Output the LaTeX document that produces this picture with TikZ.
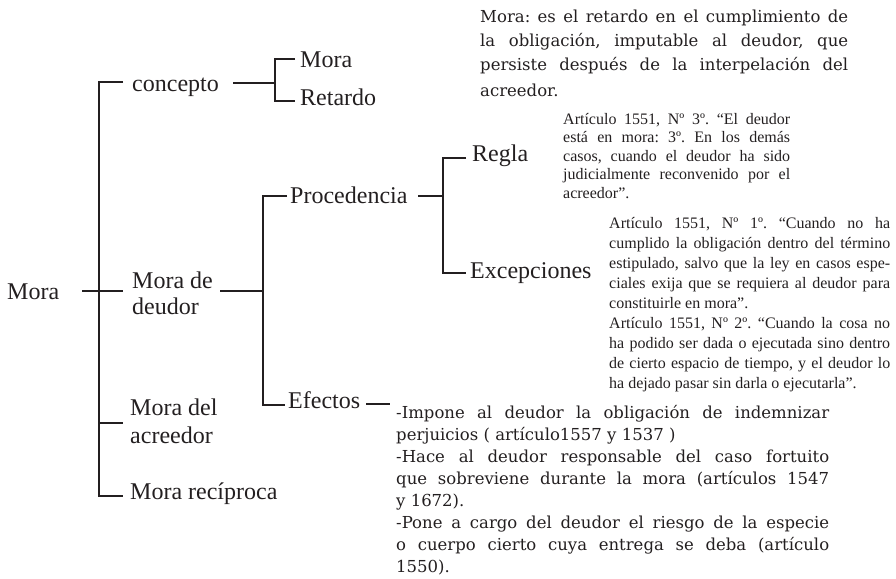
\documentclass[tikz,border=0pt]{standalone}
\usepackage{fontspec}
\setmainfont{Liberation Serif}
\newfontfamily\schfont{DejaVu Serif}
\definecolor{ink}{HTML}{231F20}
\frenchspacing
\tikzset{
  br/.style={line width=2.4pt, draw=ink},
  lbl/.style={anchor=base west, inner sep=0pt, text=ink, font=\fontsize{24}{26}\selectfont},
  blk/.style={anchor=base west, inner sep=0pt, text=ink}
}
\newcommand{\jl}[2]{\makebox[#1][s]{#2}}
\begin{document}
\begin{tikzpicture}[x=1pt,y=-1pt]
\useasboundingbox (0,0) rectangle (896,578);
% labels
\node[lbl] (mora) at (7,299) {Mora};
\node[lbl] (concepto) at (132,91) {concepto};
\node[lbl] (smora) at (300,67) {Mora};
\node[lbl] (retardo) at (300,105) {Retardo};
\node[lbl] (deudor) at (132,288) {\begin{tabular}[t]{@{}l@{}}Mora de\\deudor\end{tabular}};
\node[lbl] (procedencia) at (290,203) {Procedencia};
\node[lbl] (regla) at (472,161) {Regla};
\node[lbl] (excepciones) at (470,278) {Excepciones};
\node[lbl] (efectos) at (288,408) {Efectos};
\node[lbl] (acreedor) at (130,415) {\begin{tabular}[t]{@{}l@{}}Mora del\\[2pt]acreedor\end{tabular}};
\node[lbl] (reciproca) at (130,499) {Mora recíproca};
% junction coordinates
\coordinate (m0) at (82,291);   \coordinate (m1) at (123,291);
\coordinate (v0) at (123,82);   \coordinate (v1) at (99,82);
\coordinate (v2) at (99,496);   \coordinate (v3) at (123,496);
\coordinate (a0) at (99,423);   \coordinate (a1) at (123,423);
\coordinate (c0) at (233,83);   \coordinate (c1) at (275,83);
\coordinate (r0) at (295,59);   \coordinate (r1) at (275,59);
\coordinate (r2) at (275,101);  \coordinate (r3) at (295,101);
\coordinate (d0) at (220,291);  \coordinate (d1) at (263,291);
\coordinate (p0) at (287,196);  \coordinate (p1) at (263,196);
\coordinate (p2) at (263,405);  \coordinate (p3) at (285,405);
\coordinate (q0) at (418,196);  \coordinate (q1) at (443,196);
\coordinate (g0) at (466,158);  \coordinate (g1) at (443,158);
\coordinate (g2) at (443,273);  \coordinate (g3) at (466,273);
\coordinate (e0) at (366,404);  \coordinate (e1) at (390,404);
% connectors
\draw[br] (m0) -- (m1);
\draw[br] (v0) -- (v1) -- (v2) -- (v3);
\draw[br] (a0) -- (a1);
\draw[br] (c0) -- (c1);
\draw[br] (r0) -- (r1) -- (r2) -- (r3);
\draw[br] (d0) -- (d1);
\draw[br] (p0) -- (p1) -- (p2) -- (p3);
\draw[br] (q0) -- (q1);
\draw[br] (g0) -- (g1) -- (g2) -- (g3);
\draw[br] (e0) -- (e1);
% text blocks
\node[blk] (def) at (480,23) {\parbox[t]{368pt}{\schfont\fontsize{16.5}{24}\selectfont
\jl{368pt}{Mora: es el retardo en el cumplimiento de}\\
\jl{368pt}{la obligación, imputable al deudor, que}\\
\jl{368pt}{persiste después de la interpelación del}\\[1.5pt]
acreedor.}};
\node[blk] (art3) at (563,124) {\parbox[t]{227pt}{\fontsize{16}{18.5}\selectfont
\jl{227pt}{Artículo 1551, Nº 3º. “El deudor}\\
\jl{227pt}{está en mora: 3º. En los demás}\\
\jl{227pt}{casos, cuando el deudor ha sido}\\
\jl{227pt}{judicialmente reconvenido por el}\\
acreedor”.}};
\node[blk] (art1) at (609,228) {\parbox[t]{281pt}{\fontsize{16}{20}\selectfont
\jl{281pt}{Artículo 1551, Nº 1º. “Cuando no ha}\\
\jl{281pt}{cumplido la obligación dentro del término}\\
\jl{281pt}{estipulado, salvo que la ley en casos espe-}\\
\jl{281pt}{ciales exija que se requiera al deudor para}\\
constituirle en mora”.\\
\jl{281pt}{Artículo 1551, Nº 2º. “Cuando la cosa no}\\
\jl{281pt}{ha podido ser dada o ejecutada sino dentro}\\
\jl{281pt}{de cierto espacio de tiempo, y el deudor lo}\\
ha dejado pasar sin darla o ejecutarla”.}};
\node[blk] (efe) at (396,418) {\parbox[t]{433pt}{\schfont\fontsize{16.5}{22}\selectfont
\jl{433pt}{-Impone al deudor la obligación de indemnizar}\\
perjuicios ( artículo1557 y 1537 )\\
\jl{433pt}{-Hace al deudor responsable del caso fortuito}\\
\jl{433pt}{que sobreviene durante la mora (artículos 1547}\\
y 1672).\\
\jl{433pt}{-Pone a cargo del deudor el riesgo de la especie}\\
\jl{433pt}{o cuerpo cierto cuya entrega se deba (artículo}\\
1550).}};
\end{tikzpicture}
\end{document}
